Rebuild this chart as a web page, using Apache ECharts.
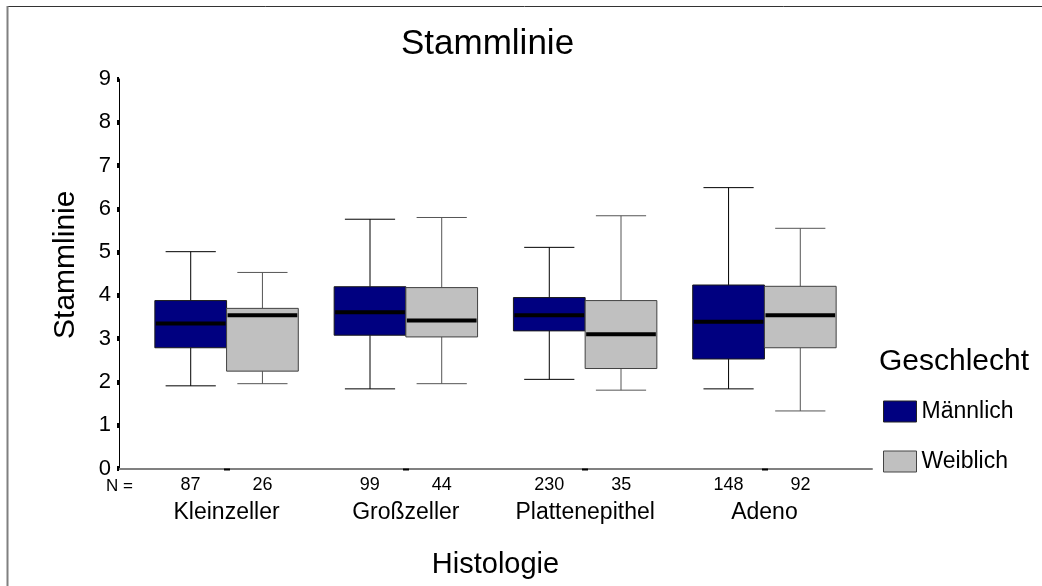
<!DOCTYPE html>
<html>
<head>
<meta charset="utf-8">
<script src="https://cdn.jsdelivr.net/npm/echarts@6/dist/echarts.min.js"></script>
<style>
  html, body { margin: 0; padding: 0; background: #fff; }
  #chart { width: 1042px; height: 586px; }
</style>
</head>
<body>
<div id="chart"></div>
<script>
const categories = ['Kleinzeller', 'Großzeller', 'Plattenepithel', 'Adeno']
const nMale = [87, 99, 230, 148]
const nFemale = [26, 44, 35, 92]

// [min, q1, median, q3, max]
const male = [
  [1.91, 2.79, 3.35, 3.88, 5.01],
  [1.84, 3.08, 3.61, 4.20, 5.76],
  [2.06, 3.18, 3.54, 3.95, 5.11],
  [1.84, 2.53, 3.39, 4.24, 6.49]
]
const female = [
  [1.96, 2.25, 3.54, 3.70, 4.53],
  [1.96, 3.04, 3.42, 4.18, 5.80],
  [1.81, 2.31, 3.10, 3.88, 5.84],
  [1.33, 2.79, 3.54, 4.21, 5.55]
]

const FONT = '"Liberation Sans", Arial, sans-serif'
const MALE_FILL = '#000080'
const FEMALE_FILL = '#c0c0c0'

// one box: side -1 = left half of the category, +1 = right half
function boxRenderer(side, fill, border, whisker) {
  return function (params, api) {
    const c = api.value(0) + side * 0.2
    const low = api.coord([c, api.value(1)])
    const q1 = api.coord([c, api.value(2)])
    const med = api.coord([c, api.value(3)])
    const q3 = api.coord([c, api.value(4)])
    const high = api.coord([c, api.value(5)])
    const boxW = api.size([0.4, 0])[0]
    const capW = api.size([0.28, 0])[0]
    const cx = med[0]
    const wStyle = { stroke: whisker, lineWidth: 1 }
    return {
      type: 'group',
      children: [
        { type: 'line', shape: { x1: cx, y1: high[1], x2: cx, y2: q3[1] }, style: wStyle },
        { type: 'line', shape: { x1: cx, y1: q1[1], x2: cx, y2: low[1] }, style: wStyle },
        { type: 'line', shape: { x1: cx - capW / 2, y1: high[1], x2: cx + capW / 2, y2: high[1] }, style: wStyle },
        { type: 'line', shape: { x1: cx - capW / 2, y1: low[1], x2: cx + capW / 2, y2: low[1] }, style: wStyle },
        {
          type: 'rect',
          shape: { x: cx - boxW / 2, y: q3[1], width: boxW, height: q1[1] - q3[1] },
          style: { fill: fill, stroke: border, lineWidth: 1 }
        },
        {
          type: 'line',
          shape: { x1: cx - boxW / 2 + 1, y1: med[1], x2: cx + boxW / 2 - 1, y2: med[1] },
          style: { stroke: '#000', lineWidth: 4 }
        }
      ]
    }
  }
}

const chart = echarts.init(document.getElementById('chart'))

chart.setOption({
  animation: false,
  backgroundColor: '#fff',
  textStyle: { fontFamily: FONT },
  title: [
    {
      text: 'Stammlinie',
      left: 401,
      top: 27,
      padding: 0,
      textStyle: { fontFamily: FONT, fontSize: 35, fontWeight: 'normal', color: '#000' }
    },
    {
      text: 'Geschlecht',
      left: 879,
      top: 347,
      padding: 0,
      textStyle: { fontFamily: FONT, fontSize: 30, fontWeight: 'normal', color: '#000' }
    }
  ],
  legend: {
    orient: 'vertical',
    left: 883,
    top: 400,
    padding: 0,
    itemWidth: 33,
    itemHeight: 21,
    itemGap: 27,
    selectedMode: false,
    textStyle: { fontFamily: FONT, fontSize: 23, color: '#000' },
    data: [
      { name: 'Männlich', icon: 'rect', itemStyle: { color: MALE_FILL, borderColor: '#222', borderWidth: 1 } },
      { name: 'Weiblich', icon: 'rect', itemStyle: { color: FEMALE_FILL, borderColor: '#444', borderWidth: 1 } }
    ]
  },
  grid: { left: 119, right: 170, top: 79, bottom: 117.5 },
  xAxis: {
    type: 'value',
    min: -0.6,
    max: 3.6,
    splitLine: { show: false },
    axisLine: { onZero: false, lineStyle: { color: '#808080', width: 2 } },
    axisTick: { customValues: [0, 1, 2, 3], length: 2, lineStyle: { color: '#000', width: 6 } },
    axisLabel: {
      customValues: [0, 1, 2, 3],
      margin: 5,
      color: '#000',
      formatter: function (v) {
        const i = Math.round(v)
        return '{n|' + nMale[i] + '}{n|' + nFemale[i] + '}\n{c|' + categories[i] + '}'
      },
      rich: {
        n: { fontFamily: FONT, fontSize: 18, width: 72, align: 'center', lineHeight: 24, color: '#000' },
        c: { fontFamily: FONT, fontSize: 23, lineHeight: 30, color: '#000' }
      }
    },
    name: 'Histologie',
    nameLocation: 'middle',
    nameGap: 82,
    nameTextStyle: { fontFamily: FONT, fontSize: 29, color: '#000' }
  },
  yAxis: {
    type: 'value',
    min: 0,
    max: 9,
    interval: 1,
    splitLine: { show: false },
    axisLine: { show: true, onZero: false, lineStyle: { color: '#000', width: 1 } },
    axisTick: { show: true, length: 2, lineStyle: { color: '#000', width: 5 } },
    axisLabel: { fontFamily: FONT, fontSize: 22, color: '#000', margin: 8 },
    name: 'Stammlinie',
    nameLocation: 'middle',
    nameGap: 38,
    nameTextStyle: { fontFamily: FONT, fontSize: 30, color: '#000', padding: [0, 0, 0, 18] }
  },
  graphic: [
    { type: 'line', shape: { x1: 7, y1: 6.5, x2: 1042, y2: 6.5 }, style: { stroke: '#333', lineWidth: 1 } },
    { type: 'line', shape: { x1: 7.5, y1: 6, x2: 7.5, y2: 586 }, style: { stroke: '#808080', lineWidth: 2 } },
    {
      type: 'text',
      left: 106,
      top: 478,
      style: { text: 'N =', fontFamily: FONT, fontSize: 17, fill: '#000' }
    }
  ],
  series: [
    {
      name: 'Männlich',
      type: 'custom',
      itemStyle: { color: MALE_FILL },
      renderItem: boxRenderer(-1, MALE_FILL, '#1a1a1a', '#000'),
      encode: { x: 0, y: [1, 2, 3, 4, 5] },
      data: male.map((d, i) => [i].concat(d))
    },
    {
      name: 'Weiblich',
      type: 'custom',
      itemStyle: { color: FEMALE_FILL },
      renderItem: boxRenderer(1, FEMALE_FILL, '#404040', '#555'),
      encode: { x: 0, y: [1, 2, 3, 4, 5] },
      data: female.map((d, i) => [i].concat(d))
    }
  ]
})
</script>
</body>
</html>
